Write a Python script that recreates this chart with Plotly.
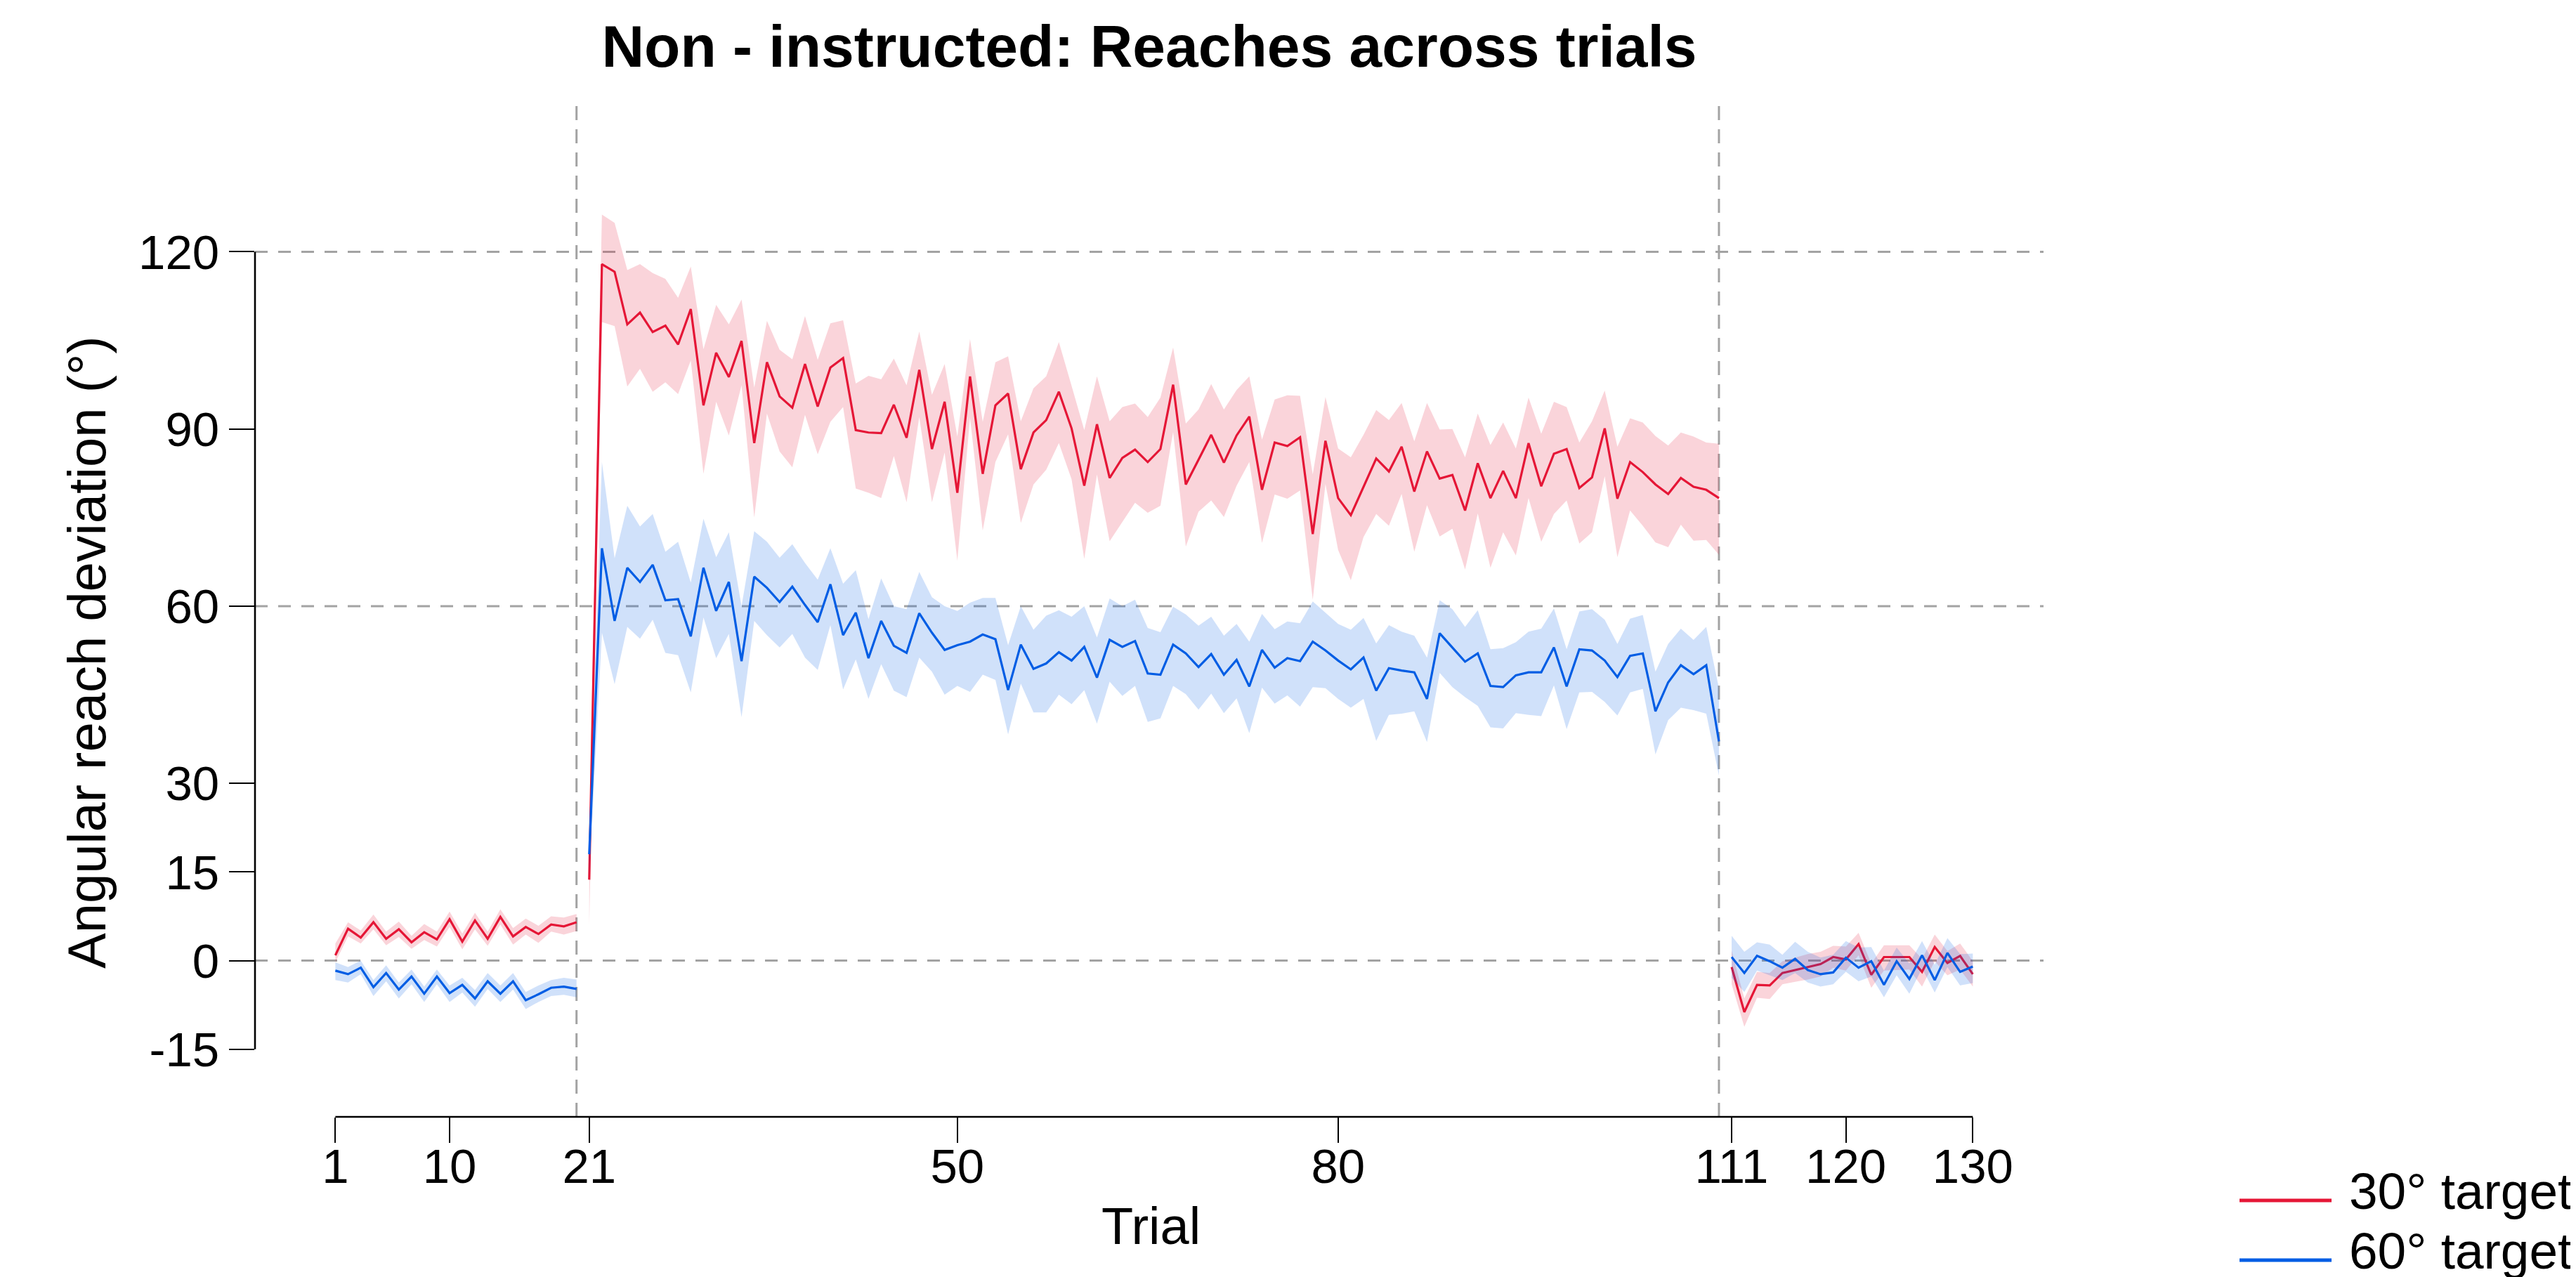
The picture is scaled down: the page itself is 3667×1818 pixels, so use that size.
import plotly.graph_objects as go

# ---------------- data ----------------
trials = list(range(1, 131))
blocks = [(1, 20), (21, 110), (111, 130)]
block_boundaries = [20, 110]
ref_levels = [0, 60, 120]
x_ticks = [1, 10, 21, 50, 80, 111, 120, 130]
y_ticks = [-15, 0, 15, 30, 60, 90, 120]
series_names = ["30° target", "60° target"]

red_mean = (
    [0.9, 5.4, 3.9, 6.5, 3.7, 5.3, 3.1, 4.8, 3.6, 7.0, 3.2, 6.8, 3.7, 7.4, 4.1, 5.7, 4.5, 6.1, 5.8, 6.5]
    + [13.7]
    + [117.9, 116.6, 107.7, 109.7, 106.4, 107.5, 104.3, 110.3, 94.0, 102.9, 98.8, 104.9, 87.6, 101.3,
       95.5, 93.6, 101.0, 93.8, 100.4, 102.0, 89.8, 89.4, 89.3, 94.1, 88.5, 100.0, 86.6, 94.6]
    + [79.2, 98.9, 82.4, 94.0, 96.0, 83.2, 89.4, 91.5, 96.3, 90.1, 80.4, 90.8, 81.7, 85.1, 86.5,
       84.4, 86.6, 97.5, 80.6, 84.8, 89.0, 84.3, 88.9, 92.1, 79.7, 87.7, 87.1, 88.6, 72.2, 88.0]
    + [78.3, 75.4, 80.2, 85.0, 82.8, 87.0, 79.4, 86.2, 81.6, 82.2, 76.2, 84.2, 78.3, 82.9, 78.3, 87.6,
       80.3, 85.8, 86.6, 80.0, 81.8, 90.1, 78.2, 84.4, 82.7, 80.6, 79.0, 81.7, 80.2, 79.7, 78.3]
    + [-1.1, -8.7, -4.1, -4.2, -2.1, -1.6, -1.1, -0.6, 0.6, 0.2, 2.8, -2.4, 0.6, 0.6, 0.6, -1.9, 2.3, -0.4, 0.8, -2.3]
)
red_lo = (
    [-0.3, 4.1, 2.9, 5.3, 2.6, 4.0, 2.0, 3.5, 2.4, 5.7, 1.9, 5.3, 2.5, 6.1, 2.7, 4.4, 3.0, 4.9, 4.4, 5.0]
    + [6.0]
    + [108.1, 107.4, 97.2, 100.2, 96.3, 97.9, 95.9, 101.6, 82.4, 94.6, 88.9, 97.4, 75.0, 92.6, 86.2, 83.5,
       92.4, 85.7, 91.2, 93.7, 79.9, 79.2, 78.3, 85.4, 77.6, 92.0, 77.6, 86.0]
    + [67.7, 91.9, 72.8, 84.4, 89.1, 74.1, 80.6, 83.1, 87.6, 81.5, 68.0, 82.3, 71.0, 74.3, 77.5, 75.8,
       77.0, 89.5, 70.1, 76.0, 77.9, 75.1, 80.4, 84.4, 70.7, 78.9, 78.2, 79.6, 61.1, 80.7]
    + [69.5, 64.4, 71.7, 75.6, 73.6, 79.0, 69.2, 77.1, 71.8, 73.1, 66.2, 75.7, 66.5, 72.5, 68.6, 78.3,
       70.9, 75.6, 77.9, 70.6, 72.5, 82.0, 68.3, 76.2, 73.6, 70.8, 70.0, 73.8, 71.1, 71.2, 68.7]
    + [-4.0, -11.2, -6.3, -6.5, -4.0, -3.6, -3.2, -2.7, -1.2, -1.7, 0.9, -4.6, -1.7, -1.6, -1.5, -4.4, -0.1, -2.5, -1.5, -4.4]
)
red_hi = (
    [2.9, 6.5, 5.1, 7.8, 4.9, 6.6, 4.2, 6.2, 4.9, 8.3, 4.6, 8.1, 4.9, 8.7, 5.5, 7.1, 5.9, 7.5, 7.3, 7.9]
    + [21.0]
    + [126.3, 124.9, 116.9, 117.9, 116.4, 115.4, 112.2, 117.5, 103.5, 111.0, 107.7, 111.9, 97.0, 108.3,
       103.4, 101.8, 109.1, 101.7, 107.9, 108.4, 97.7, 99.0, 98.4, 101.9, 97.4, 106.5, 95.8, 101.0]
    + [88.7, 105.2, 91.2, 101.3, 102.3, 91.3, 96.9, 98.9, 104.7, 97.3, 89.8, 98.9, 91.3, 93.7, 94.3,
       92.0, 95.3, 103.8, 90.9, 93.3, 97.6, 93.3, 96.6, 98.9, 88.2, 95.0, 95.7, 95.6, 82.3, 95.4]
    + [86.7, 85.2, 89.0, 93.2, 91.5, 94.4, 87.9, 94.4, 89.9, 90.0, 85.2, 92.6, 87.3, 91.1, 86.7, 95.3,
       89.2, 94.6, 93.7, 87.7, 91.3, 96.5, 87.0, 91.8, 91.1, 88.8, 87.2, 89.4, 88.7, 87.7, 87.5]
    + [1.7, -6.4, -1.9, -2.1, -0.1, 0.5, 1.1, 1.5, 2.5, 2.4, 4.7, -0.5, 2.6, 2.6, 2.6, 0.3, 4.4, 1.6, 2.9, -0.1]
)

blue_mean = (
    [-1.7, -2.3, -1.2, -4.5, -2.1, -4.9, -2.7, -5.6, -2.7, -5.5, -4.1, -6.4, -3.5, -5.6, -3.5, -6.7, -5.7, -4.6, -4.4, -4.8]
    + [18.0]
    + [69.8, 57.5, 66.5, 64.1, 67.0, 61.0, 61.2, 54.9, 66.5, 59.2, 64.1, 50.7, 65.0, 63.1, 60.7, 63.3,
       60.2, 57.3, 63.7, 55.1, 58.9, 51.2, 57.5, 53.3, 52.1, 58.8, 55.5, 52.6]
    + [53.4, 54.0, 55.2, 54.4, 45.8, 53.5, 49.4, 50.3, 52.2, 50.8, 53.1, 47.9, 54.3, 53.1, 54.1, 48.6,
       48.4, 53.5, 52.0, 49.7, 51.9, 48.4, 50.9, 46.4, 52.6, 49.6, 51.2, 50.7, 54.0, 52.5]
    + [50.8, 49.3, 51.3, 45.7, 49.5, 49.1, 48.8, 44.3, 55.4, 53.0, 50.6, 52.0, 46.5, 46.3, 48.3, 48.8,
       48.8, 53.0, 46.4, 52.7, 52.5, 50.8, 48.0, 51.6, 52.0, 42.2, 47.1, 50.0, 48.5, 50.0, 37.1]
    + [0.6, -2.1, 0.8, -0.1, -1.2, 0.3, -1.6, -2.3, -2.0, 0.5, -1.2, -0.1, -4.1, -0.1, -3.1, 0.9, -3.3, 1.3, -1.9, -1.0]
)
blue_lo = (
    [-3.3, -3.7, -2.3, -6.0, -3.5, -6.4, -4.0, -7.0, -4.0, -7.0, -5.4, -7.8, -4.8, -7.0, -4.9, -8.2, -7.0, -6.0, -5.8, -6.2]
    + [14.0]
    + [55.5, 46.8, 56.5, 54.5, 57.7, 52.1, 51.7, 45.4, 58.1, 51.2, 55.3, 41.2, 57.5, 55.1, 53.0, 55.3,
       51.3, 49.2, 56.8, 45.9, 51.0, 44.3, 50.2, 45.7, 44.6, 51.3, 48.9, 45.0]
    + [46.5, 45.5, 48.4, 47.5, 38.3, 46.9, 42.0, 42.0, 45.0, 43.4, 45.8, 40.1, 47.2, 44.8, 46.5, 40.4,
       41.0, 46.5, 45.1, 42.5, 45.2, 41.9, 44.4, 38.5, 46.2, 43.5, 44.9, 43.0, 46.3, 46.1]
    + [44.3, 42.8, 44.3, 37.2, 41.6, 41.8, 42.2, 37.0, 48.7, 46.3, 44.6, 43.1, 39.5, 39.3, 41.9, 41.6,
       41.4, 46.6, 39.2, 45.4, 45.5, 43.8, 41.5, 45.4, 46.0, 34.9, 40.7, 42.8, 42.4, 41.8, 31.3]
    + [-2.9, -5.3, -1.7, -2.5, -3.3, -2.1, -3.7, -4.4, -4.0, -1.9, -3.5, -2.7, -6.2, -2.5, -5.6, -1.3, -5.4, -1.1, -4.2, -3.8]
)
blue_hi = (
    [-0.3, -1.1, 0.0, -3.3, -0.8, -3.7, -1.5, -4.4, -1.5, -4.2, -2.9, -5.0, -2.1, -4.2, -2.1, -5.3, -4.2, -3.3, -2.9, -3.2]
    + [22.0]
    + [84.4, 68.1, 77.0, 73.5, 75.6, 69.2, 70.9, 64.0, 74.8, 68.3, 72.5, 60.0, 72.7, 70.9, 68.2, 70.5,
       67.3, 64.5, 69.8, 63.8, 66.1, 57.8, 64.7, 60.0, 59.5, 65.8, 61.5, 60.0]
    + [59.2, 60.6, 61.4, 61.4, 53.4, 60.0, 56.0, 58.4, 59.3, 58.2, 60.0, 54.7, 61.3, 60.0, 61.1, 56.3,
       55.6, 59.9, 58.6, 56.7, 58.2, 55.0, 57.0, 54.0, 58.7, 56.1, 57.4, 57.1, 60.8, 58.9]
    + [57.0, 56.0, 58.0, 53.7, 56.8, 55.7, 55.0, 51.3, 61.0, 59.5, 56.5, 59.3, 52.7, 52.9, 53.9, 55.7,
       56.2, 59.6, 52.7, 59.1, 59.5, 57.7, 53.6, 57.9, 58.5, 48.9, 53.6, 56.2, 54.3, 56.5, 46.1]
    + [4.2, 1.5, 3.1, 2.7, 1.0, 3.2, 1.5, 0.5, 1.0, 3.3, 2.2, 2.3, -1.7, 2.2, -0.5, 3.3, -0.7, 3.8, 1.1, 1.2]
)

# ---------------- style ----------------
W, H = 3667, 1818
L, R, T, B = 355, 2901, 133, 1582      # plot area in pixels
FONT = "Liberation Sans, Arial, Helvetica, sans-serif"
RED, RED_FILL = "#e51636", "rgba(229,22,54,0.184)"
BLUE, BLUE_FILL = "#005de4", "rgba(0,93,228,0.184)"
GRID = "#a3a3a3"


def px_x(p):
    return (p - L) / (R - L)


def px_y(p):
    return (B - p) / (B - T)


series = [
    (series_names[0], RED, RED_FILL, red_mean, red_lo, red_hi),
    (series_names[1], BLUE, BLUE_FILL, blue_mean, blue_lo, blue_hi),
]

fig = go.Figure()
for name, col, fill, mean, lo, hi in series:
    for a, b in blocks:
        idx = [i for i, t in enumerate(trials) if a <= t <= b]
        xs = [trials[i] for i in idx]
        fig.add_trace(go.Scatter(
            x=xs + xs[::-1],
            y=[hi[i] for i in idx] + [lo[i] for i in idx][::-1],
            fill="toself", fillcolor=fill, line=dict(width=0),
            mode="lines", hoverinfo="skip", showlegend=False))
    for a, b in blocks:
        idx = [i for i, t in enumerate(trials) if a <= t <= b]
        fig.add_trace(go.Scatter(
            x=[trials[i] for i in idx], y=[mean[i] for i in idx],
            mode="lines", line=dict(color=col, width=3.2),
            name=name, showlegend=False))

shapes = []
for lv in ref_levels:
    shapes.append(dict(type="line", xref="paper", yref="y", x0=0, x1=1, y0=lv, y1=lv,
                       line=dict(color=GRID, width=3, dash="18px,15px"), layer="below"))
for bb in block_boundaries:
    shapes.append(dict(type="line", xref="x", yref="paper", x0=bb, x1=bb, y0=0, y1=1,
                       line=dict(color=GRID, width=3, dash="20px,13px"), layer="below"))
# axis lines
shapes.append(dict(type="line", xref="paper", yref="y", x0=0, x1=0, y0=min(y_ticks), y1=max(y_ticks),
                   line=dict(color="black", width=2.6)))
shapes.append(dict(type="line", xref="x", yref="paper", x0=min(x_ticks), x1=max(x_ticks), y0=0, y1=0,
                   line=dict(color="black", width=2.6)))
# legend samples
legend_y = [1701, 1786]
for (name, col, *_), ly in zip(series, legend_y):
    shapes.append(dict(type="line", xref="paper", yref="paper", x0=px_x(3180), x1=px_x(3311),
                       y0=px_y(ly), y1=px_y(ly), line=dict(color=col, width=5)))

annotations = [
    dict(text="Angular reach deviation (°)", xref="paper", yref="paper",
         x=px_x(116), y=px_y(921), xanchor="center", yanchor="middle", textangle=-90,
         showarrow=False, font=dict(family=FONT, size=76, color="black")),
    dict(text="Trial", xref="paper", yref="paper", x=px_x(1630), y=px_y(1738),
         xanchor="center", yanchor="middle", showarrow=False,
         font=dict(family=FONT, size=74, color="black")),
]
for (name, *_), ly in zip(series, legend_y):
    annotations.append(dict(text=name, xref="paper", yref="paper", x=px_x(3334), y=px_y(ly - 14),
                            xanchor="left", yanchor="middle", showarrow=False,
                            font=dict(family=FONT, size=73, color="black")))

fig.update_layout(
    width=W, height=H,
    margin=dict(l=L, r=W - R, t=T, b=H - B, autoexpand=False),
    paper_bgcolor="white", plot_bgcolor="white",
    showlegend=False,
    title=dict(text="Non - instructed: Reaches across trials", x=0.5, xref="paper",
               y=1 - 58 / H, yref="container", xanchor="center", yanchor="middle",
               font=dict(family=FONT, size=84, color="black", weight="bold")),
    xaxis=dict(range=[-5.33, 135.57], tickvals=x_ticks, ticktext=[str(v) for v in x_ticks],
               ticks="outside", ticklen=36, tickwidth=2.4, tickcolor="black",
               ticklabelstandoff=-26,
               showgrid=False, zeroline=False, showline=False,
               tickfont=dict(family=FONT, size=69, color="black")),
    yaxis=dict(range=[-26.45, 145.85], tickvals=y_ticks, ticktext=[str(v) for v in y_ticks],
               ticks="outside", ticklen=36, tickwidth=2.4, tickcolor="black",
               showgrid=False, zeroline=False, showline=False,
               tickfont=dict(family=FONT, size=69, color="black")),
    shapes=shapes, annotations=annotations,
)

fig.write_html("out.html")
